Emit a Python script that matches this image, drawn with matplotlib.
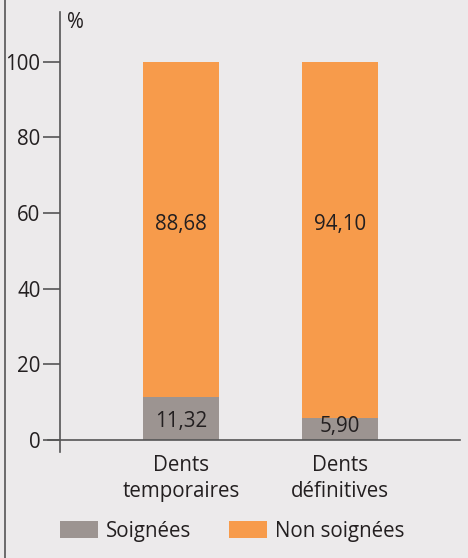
import matplotlib
matplotlib.use("Agg")
import matplotlib.pyplot as plt
from matplotlib.patches import Patch

categories = ["Dents\ntemporaires", "Dents\ndéfinitives"]
soignees = [11.32, 5.90]
non_soignees = [88.68, 94.10]
soignees_lbl = ["11,32", "5,90"]
non_soignees_lbl = ["88,68", "94,10"]
yticks = [0, 20, 40, 60, 80, 100]

bg = "#ECEAEB"
orange = "#F79B4B"
gray = "#9C9491"
txt = "#231F20"
axc = "#555555"
plt.rcParams['font.family'] = ['Open Sans', 'DejaVu Sans']
FS = 14.8

W, H = 468, 558
fig = plt.figure(figsize=(W/100, H/100), dpi=100, facecolor=bg)
ax = fig.add_axes([60/W, 1-452/H, 400/W, 440/H])
ax.set_facecolor(bg)

x = list(range(len(categories)))
ax.bar(x, soignees, width=0.478, color=gray, zorder=2)
ax.bar(x, non_soignees, width=0.478, bottom=soignees, color=orange, zorder=2)

ax.set_xlim(-0.761, 1.755)
ax.set_ylim(-3.2, 113.2)

for s in ["top", "right", "bottom"]:
    ax.spines[s].set_visible(False)
ax.spines["left"].set_color(axc)
ax.spines["left"].set_linewidth(1.2)
ax.plot([-0.03, 1], [0, 0], transform=ax.get_yaxis_transform(), color=axc,
        lw=1.2, clip_on=False, zorder=3)

ax.set_yticks(yticks)
ax.set_yticklabels([str(v) for v in yticks], fontsize=FS, color=txt)
ax.tick_params(axis="y", length=12, width=1.2, color=axc, pad=2, direction="out")
ax.set_xticks(x)
ax.set_xticklabels(categories, fontsize=FS, color=txt, linespacing=1.3)
ax.tick_params(axis="x", length=0, pad=2)

ax.text(67/W, 1-22/H, "%", transform=fig.transFigure, fontsize=FS, color=txt,
        ha="left", va="center")

label_y_s = [4.8, 3.6]
for i in x:
    ax.text(i, 57.1, non_soignees_lbl[i], ha="center", va="center", fontsize=FS, color=txt, zorder=4)
    ax.text(i, label_y_s[i], soignees_lbl[i], ha="center", va="center", fontsize=FS, color=txt, zorder=4)

# legend
fpx = FS * 100 / 72
handles = [Patch(facecolor=gray, label="Soignées"), Patch(facecolor=orange, label="Non soignées")]
fig.legend(handles=handles, loc="center left", bbox_to_anchor=(60/W, 1-531/H), ncol=2,
           frameon=False, fontsize=FS, handlelength=38/fpx, handleheight=19/fpx,
           handletextpad=8/fpx, columnspacing=38/fpx, labelcolor=txt,
           borderpad=0, borderaxespad=0)

# left frame line
fig.add_artist(plt.Line2D([4.5/W, 4.5/W], [0, 1], transform=fig.transFigure, color=axc, lw=1.2))

fig.savefig("out.png", dpi=100, facecolor=bg)
